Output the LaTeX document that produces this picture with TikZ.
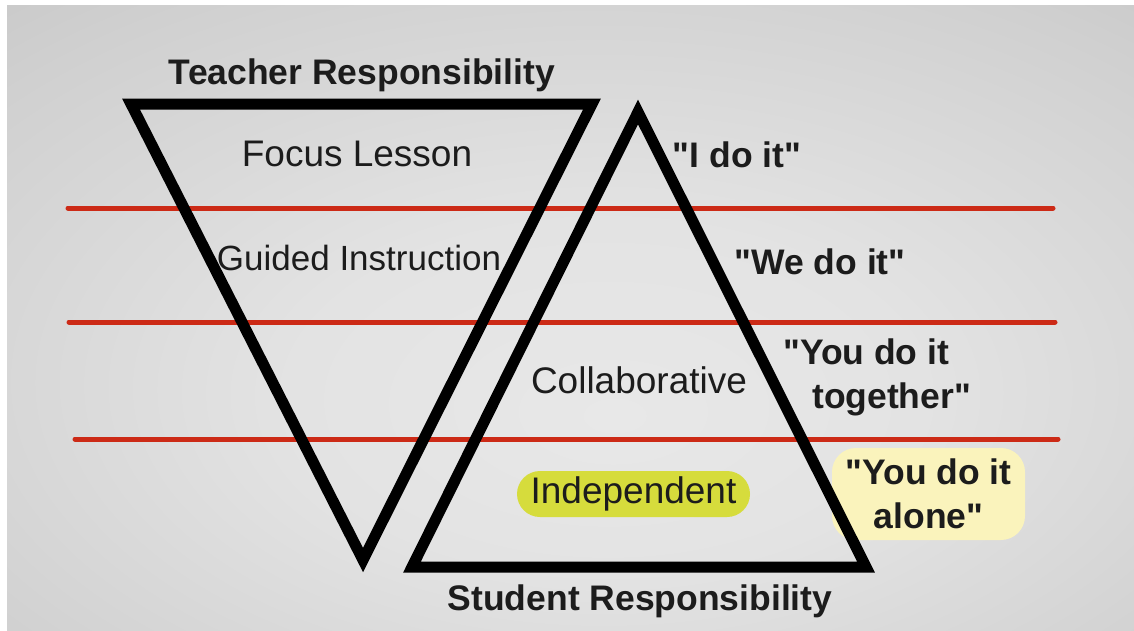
\documentclass[tikz,border=0pt]{standalone}
\usepackage{fontspec}
\setmainfont{Liberation Sans}[Ligatures=TeXOff]
\definecolor{bgA}{RGB}{232,232,232}
\definecolor{bgB}{RGB}{227,227,227}
\definecolor{bgC}{RGB}{208,208,208}
\definecolor{bgD}{RGB}{190,190,190}
\definecolor{bgE}{RGB}{168,168,168}
\definecolor{redline}{RGB}{204,42,22}
\definecolor{hlgreen}{RGB}{214,220,60}
\definecolor{hlyellow}{RGB}{250,243,188}
\definecolor{txt}{RGB}{28,28,28}
\pgfdeclareradialshading{bgshade}{\pgfpoint{2bp}{-8bp}}{color(0bp)=(bgA); color(14bp)=(bgB); color(34bp)=(bgC); color(50bp)=(bgD); color(71bp)=(bgE)}
\tikzset{
  tri/.style={draw=black, line width=11pt, line join=miter},
  rline/.style={draw=redline, line width=5pt, line cap=round},
  reg/.style={font=\fontsize{37}{44}\selectfont, text=txt, inner sep=0pt},
  bld/.style={font=\fontsize{35.5}{44}\selectfont\bfseries, text=txt, inner sep=0pt},
}
\begin{document}
\begin{tikzpicture}[x=1pt,y=-1pt]
\useasboundingbox (0,0) rectangle (1134,630);
\fill[white] (0,0) rectangle (1134,630);
\shade[shading=bgshade] (7,5) rectangle (1134,630);

% red separator lines
\coordinate (r1a) at (68,208);  \coordinate (r1b) at (1053,208);
\coordinate (r2a) at (69,322);  \coordinate (r2b) at (1055,322);
\coordinate (r3a) at (75,439);  \coordinate (r3b) at (1058,439);
\draw[rline] (r1a) -- (r1b);
\draw[rline] (r2a) -- (r2b);
\draw[rline] (r3a) -- (r3b);

% highlighted labels (behind the triangles)
\node[reg, fill=hlgreen, rounded corners=23pt, minimum width=233pt, minimum height=46pt] (indep) at (633.5,494) {Independent};
\node[bld, align=center, fill=hlyellow, rounded corners=24pt, minimum width=193pt, minimum height=92pt] (alone) at (928.5,494) {"You do it\\alone"};

% teacher (inverted) triangle
\coordinate (ttl) at (131,104);
\coordinate (ttr) at (592,104);
\coordinate (tbot) at (363,560);
\draw[tri] (ttl) -- (ttr) -- (tbot) -- cycle;

% student (upright) triangle
\coordinate (sap) at (638,112);
\coordinate (sbr) at (866,567);
\coordinate (sbl) at (412,567);
\draw[tri] (sap) -- (sbr) -- (sbl) -- cycle;

% labels
\node[bld, anchor=base] (teacher) at (362,84) {Teacher Responsibility};
\node[bld, anchor=base] (student) at (640,610) {Student Responsibility};
\node[reg, anchor=base] (focus) at (357,166) {Focus Lesson};
\node[reg, anchor=base, font=\fontsize{35}{44}\selectfont] (guided) at (359,270) {Guided Instruction};
\node[reg, anchor=base] (collab) at (639,393) {Collaborative};

\node[bld, anchor=base] (ido) at (737,167) {"I do it"};
\node[bld, anchor=base] (wedo) at (820,274) {"We do it"};
\node[bld, anchor=north west, align=left] (together) at (783,339) {"You do it\\\hspace*{29pt}together"};
\end{tikzpicture}
\end{document}
